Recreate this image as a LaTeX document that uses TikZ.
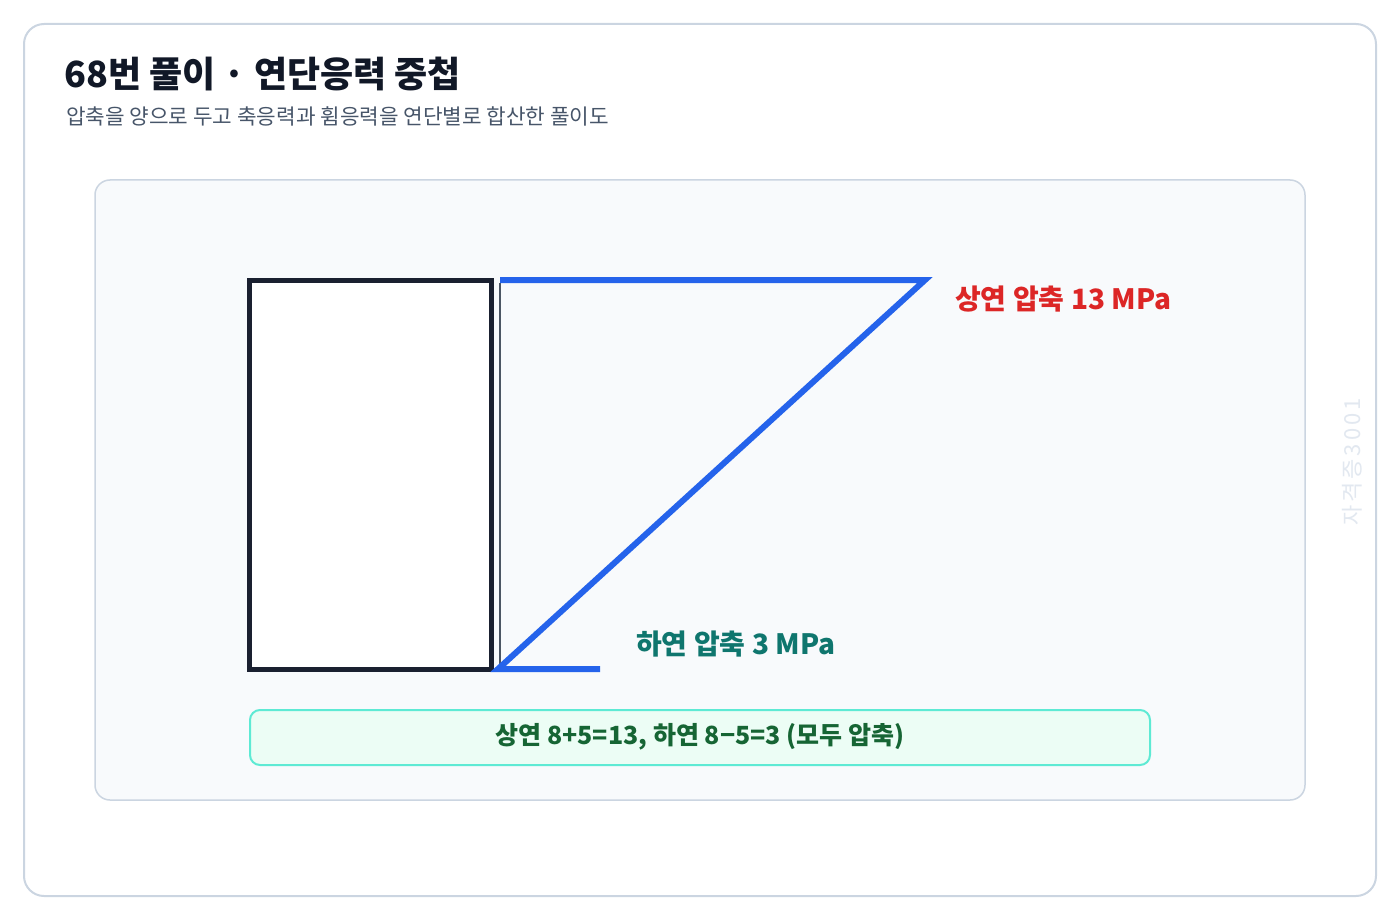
\documentclass[tikz,border=0pt]{standalone}
\usepackage{fontspec}
\setmainfont{Noto Sans CJK KR}
\usepackage{xcolor}
\usetikzlibrary{positioning}
\definecolor{cardline}{HTML}{CBD5E1}
\definecolor{panelfill}{HTML}{F8FAFC}
\definecolor{sectionline}{HTML}{1A2030}
\definecolor{axisgray}{HTML}{4B5563}
\definecolor{stressblue}{HTML}{2563EB}
\definecolor{topred}{HTML}{DC2626}
\definecolor{botteal}{HTML}{0F766E}
\definecolor{notefill}{HTML}{ECFDF5}
\definecolor{noteline}{HTML}{5EEAD4}
\definecolor{notetext}{HTML}{166534}
\definecolor{titletext}{HTML}{111827}
\definecolor{subtext}{HTML}{475569}
\definecolor{marktext}{HTML}{E2E8F0}
\tikzset{
	stresslabel/.style={anchor=base west,font=\fontsize{28}{32}\selectfont\bfseries,inner sep=0pt},
	stressline/.style={line width=6pt,stressblue,line join=miter},
}

\begin{document}
\begin{tikzpicture}[x=1pt,y=-1pt]
		\useasboundingbox (0,0) rectangle (1400,920);
		\draw[cardline,line width=2pt,fill=white,rounded corners=20pt] (24,24) rectangle (1376,896);
		\node[anchor=base west,inner sep=0pt,text=titletext,font=\fontsize{36}{42}\selectfont\bfseries] (title) at (64,88) {68번 풀이 · 연단응력 중첩};
		\node[anchor=base west,inner sep=0pt,text=subtext,font=\fontsize{21.3}{25}\selectfont] (subtitle) at (66,125) {압축을 양으로 두고 축응력과 휨응력을 연단별로 합산한 풀이도};
		\draw[cardline,line width=1.5pt,fill=panelfill,rounded corners=15pt] (95,180) rectangle (1305,800);
		% section and stress diagram
		\draw[sectionline,line width=5pt,fill=white] (249,280) rectangle (491,669);
		\coordinate (topleft) at (500,280);
		\coordinate (topright) at (925,280);
		\coordinate (botleft) at (498,669);
		\coordinate (botright) at (600,669);
		\draw[axisgray,line width=2pt] (500,283) -- (500,668);
		\draw[stressline] (topleft) -- (topright) -- (botleft) -- (botright);
		\node[stresslabel,text=topred] (toplabel) at (955,309) {상연 압축 13 MPa};
		\node[stresslabel,text=botteal] (botlabel) at (636,654) {하연 압축 3 MPa};
		% result box
		\draw[noteline,line width=2pt,fill=notefill,rounded corners=10pt] (250,710) rectangle (1150,765);
		\node[text=notetext,font=\fontsize{25}{29}\selectfont\bfseries] (result) at (700,737) {상연 8+5=13, 하연 8−5=3 (모두 압축)};
		\node[rotate=90,text=marktext,font=\fontsize{22}{26}\selectfont\addfontfeature{LetterSpace=13}] (mark) at (1352,462) {자격증3001};
	\end{tikzpicture}
\end{document}
